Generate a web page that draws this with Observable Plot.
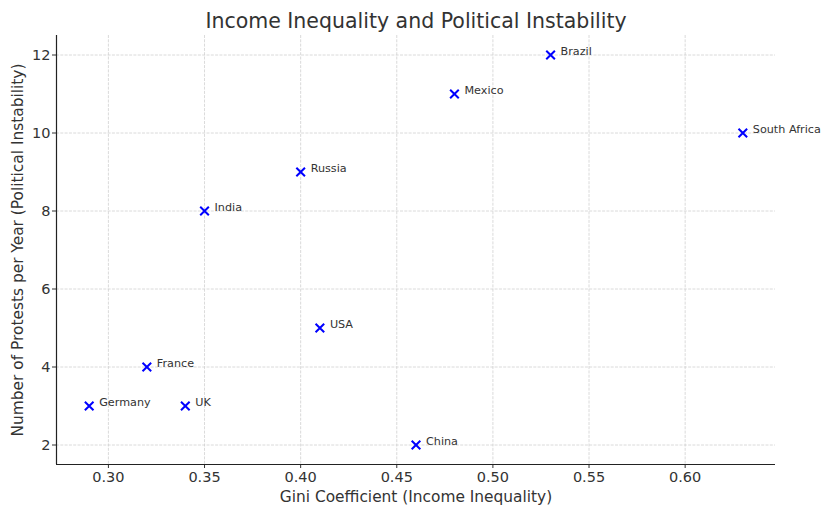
<!DOCTYPE html>
<html>
<head>
<meta charset="utf-8">
<script src="https://cdn.jsdelivr.net/npm/d3@7"></script>
<script src="https://cdn.jsdelivr.net/npm/@observablehq/plot@0.6"></script>
<style>
  html, body { margin: 0; padding: 0; background: #fff; }
  svg { display: block; font-family: "DejaVu Sans", sans-serif; }
</style>
</head>
<body>
<div id="chart"></div>
<script>
const countries = ["USA", "China", "India", "Brazil", "South Africa", "Germany", "France", "UK", "Russia", "Mexico"];
const gini = [0.41, 0.46, 0.35, 0.53, 0.63, 0.29, 0.32, 0.34, 0.40, 0.48];
const protests = [5, 2, 8, 12, 10, 3, 4, 3, 9, 11];
const xTicks = [0.30, 0.35, 0.40, 0.45, 0.50, 0.55, 0.60];
const yTicks = [2, 4, 6, 8, 10, 12];

const data = countries.map((c, i) => ({country: c, gini: gini[i], protests: protests[i]}));

const chart = Plot.plot({
  width: 821,
  height: 505,
  marginLeft: 56,
  marginRight: 46,
  marginTop: 35,
  marginBottom: 41,
  style: {fontFamily: "DejaVu Sans, sans-serif", fontSize: "14.5px", color: "#333"},
  x: {domain: [0.273, 0.647], ticks: xTicks, tickFormat: d3.format(".2f")},
  y: {domain: [1.5, 12.5], ticks: yTicks},
  marks: [
    Plot.gridX(xTicks, {stroke: "#d0d0d0", strokeOpacity: 1, strokeDasharray: "3,1.3", strokeWidth: 0.8}),
    Plot.gridY(yTicks, {stroke: "#d0d0d0", strokeOpacity: 1, strokeDasharray: "3,1.3", strokeWidth: 0.8}),
    Plot.axisX(xTicks, {tickFormat: d3.format(".2f"), tickSize: 4, tickPadding: 3, fontSize: 14.5, fill: "#333", label: null}),
    Plot.axisY(yTicks, {tickSize: 4, tickPadding: 2, fontSize: 14.5, fill: "#333", label: null}),
    Plot.text(["Gini Coefficient (Income Inequality)"], {frameAnchor: "bottom", dy: 33, lineAnchor: "middle", fontSize: 15.4, fill: "#333"}),
    Plot.text(["Number of Protests per Year (Political Instability)"], {frameAnchor: "left", dx: -38, rotate: -90, textAnchor: "middle", lineAnchor: "middle", fontSize: 15.4, fill: "#333"}),
    Plot.ruleX([0.273], {stroke: "#222", strokeWidth: 1.2}),
    Plot.ruleY([1.5], {stroke: "#222", strokeWidth: 1.2}),
    Plot.dot(data, {x: "gini", y: "protests", symbol: "times", r: 4, stroke: "blue", strokeWidth: 2}),
    Plot.text(data, {x: "gini", y: "protests", text: "country", dx: 10, dy: -4, textAnchor: "start", fontSize: 11.2, fill: "#333"}),
    Plot.text(["Income Inequality and Political Instability"], {frameAnchor: "top", dy: -14, lineAnchor: "middle", fontSize: 20.5, fill: "#333"})
  ]
});
document.getElementById("chart").appendChild(chart);
</script>
</body>
</html>
